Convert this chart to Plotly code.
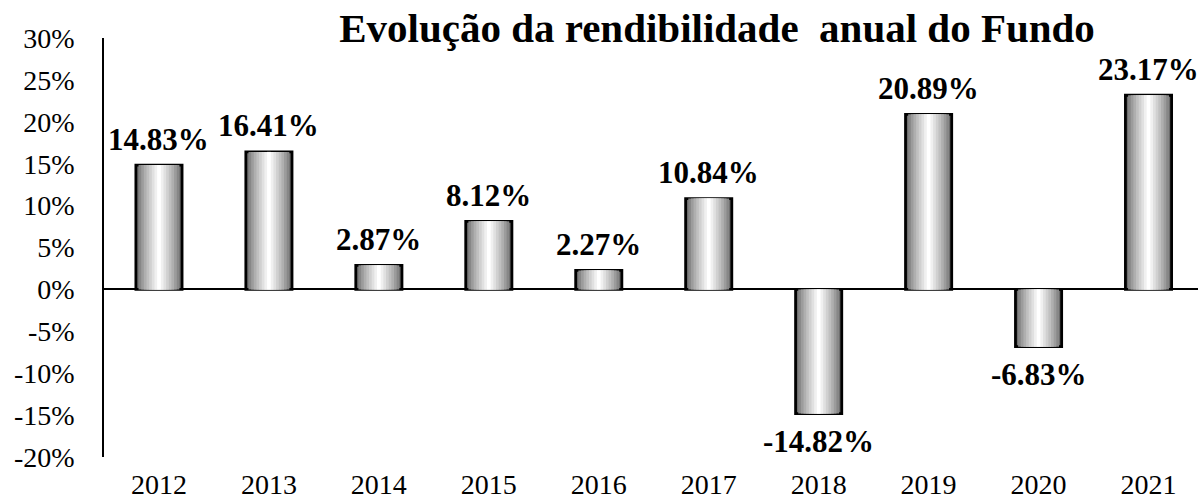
import plotly.graph_objects as go

years = ["2012", "2013", "2014", "2015", "2016", "2017", "2018", "2019", "2020", "2021"]
returns = [14.83, 16.41, 2.87, 8.12, 2.27, 10.84, -14.82, 20.89, -6.83, 23.17]
y_ticks = [-20, -15, -10, -5, 0, 5, 10, 15, 20, 25, 30]
y_tick_labels = [f"{v}%" for v in y_ticks]
title_text = "Evolução da rendibilidade\u00a0 anual do Fundo"

FONT = "Liberation Serif, Times New Roman, serif"
bar_w = 0.42
layers = 9

fig = go.Figure()
for i in range(layers):
    frac = i / (layers - 1)
    w = bar_w * (1 - frac * 0.92)
    g = int(108 + (255 - 108) * frac ** 0.8)
    fig.add_trace(go.Bar(
        x=years, y=returns, width=w,
        marker=dict(color=f"rgb({g},{g},{g})",
                    line=dict(color="black", width=2.8 if i == 0 else 0)),
        hoverinfo="skip", showlegend=False,
    ))

for idx, v in enumerate(returns):
    fig.add_annotation(x=idx, y=v, xref="x", yref="y",
                       text=f"<b>{v:.2f}%</b>", showarrow=False,
                       yshift=26 if v >= 0 else -28,
                       font=dict(family=FONT, size=31, color="black"))

fig.update_layout(
    template="none",
    width=1198, height=501,
    margin=dict(l=104, r=0, t=38, b=44),
    barmode="overlay",
    plot_bgcolor="white", paper_bgcolor="white",
    title=dict(text=f"<b>{title_text}</b>", x=717 / 1198, xanchor="center",
               y=1 - 28 / 501, yanchor="middle",
               font=dict(family=FONT, size=41, color="black")),
    font=dict(family=FONT, color="black"),
)
fig.update_xaxes(type="category", range=[-0.5, 9.45], automargin=False,
                 showgrid=False, showline=False, ticks="", zeroline=False,
                 tickfont=dict(family=FONT, size=28, color="black"),
                 ticklabelstandoff=8)
fig.update_yaxes(range=[-20, 30], tickvals=y_ticks, ticktext=y_tick_labels,
                 automargin=False,
                 showgrid=False, showline=True, linecolor="black", linewidth=1.5,
                 zeroline=True, zerolinecolor="black", zerolinewidth=1.5,
                 ticks="", ticklabelstandoff=22,
                 tickfont=dict(family=FONT, size=28, color="black"))

fig.write_html("out.html", config={"displayModeBar": False},
               post_script="document.body.style.margin='0';document.body.style.overflow='hidden';")
